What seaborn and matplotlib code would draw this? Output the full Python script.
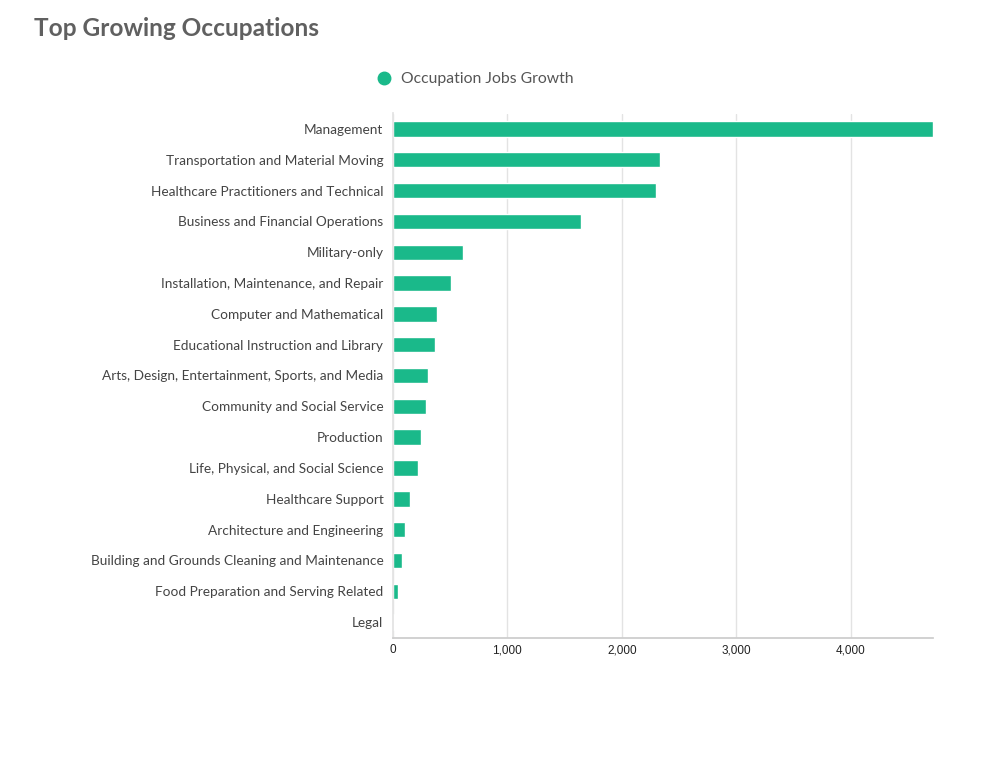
import matplotlib
matplotlib.use("Agg")
import matplotlib.pyplot as plt
import seaborn as sns
import pandas as pd
from matplotlib.ticker import FuncFormatter
from matplotlib.lines import Line2D

sns.set_theme(style="white")
plt.rcParams["font.family"] = ["Lato", "DejaVu Sans"]

occupations = [
    "Management",
    "Transportation and Material Moving",
    "Healthcare Practitioners and Technical",
    "Business and Financial Operations",
    "Military-only",
    "Installation, Maintenance, and Repair",
    "Computer and Mathematical",
    "Educational Instruction and Library",
    "Arts, Design, Entertainment, Sports, and Media",
    "Community and Social Service",
    "Production",
    "Life, Physical, and Social Science",
    "Healthcare Support",
    "Architecture and Engineering",
    "Building and Grounds Cleaning and Maintenance",
    "Food Preparation and Serving Related",
    "Legal",
]
growth = [4720, 2338, 2303, 1646, 613, 508, 385, 368, 306, 289, 245, 219, 149, 105, 79, 44, 9]

df = pd.DataFrame({"Occupation": occupations, "Growth": growth})
BAR_COLOR = "#1ab98a"

fig = plt.figure(figsize=(9.93, 7.62), dpi=100)
ax = fig.add_axes([393 / 993, 1 - 637.5 / 762, (933 - 393) / 993, (637.5 - 113.5) / 762])

sns.barplot(data=df, x="Growth", y="Occupation", color=BAR_COLOR, width=0.5,
            saturation=1, ax=ax, orient="h")

ax.set_xlim(0, max(growth))
ax.set_xticks([0, 1000, 2000, 3000, 4000])
ax.xaxis.set_major_formatter(FuncFormatter(lambda v, p: f"{int(v):,}"))
for lbl in ax.get_xticklabels():
    lbl.set_fontfamily("Liberation Sans")
    lbl.set_fontsize(8.5)
    lbl.set_color("#222222")
ax.tick_params(axis="y", labelsize=9.8, labelcolor="#444444", length=0, pad=7)
ax.tick_params(axis="x", length=0, pad=5)
ax.set_xlabel("")
ax.set_ylabel("")
ax.grid(axis="x", color="#e3e3e3", linewidth=1)
ax.set_axisbelow(True)
for s in ["top", "right"]:
    ax.spines[s].set_visible(False)
ax.spines["bottom"].set_color("#cccccc")
ax.spines["left"].set_color("#e3e3e3")

fig.text(34 / 993, 1 - 28.5 / 762, "Top Growing Occupations", fontsize=17.6, fontweight="bold",
         color="#606060", va="center", ha="left")

handle = Line2D([], [], marker="o", linestyle="", markersize=9, color=BAR_COLOR)
fig.legend([handle], ["Occupation Jobs Growth"], loc="center", bbox_to_anchor=(471 / 993, 1 - 79.5 / 762),
           frameon=False, fontsize=11.3, handletextpad=0.1, labelcolor="#555555")

fig.savefig("out.png", dpi=100, facecolor="white")
